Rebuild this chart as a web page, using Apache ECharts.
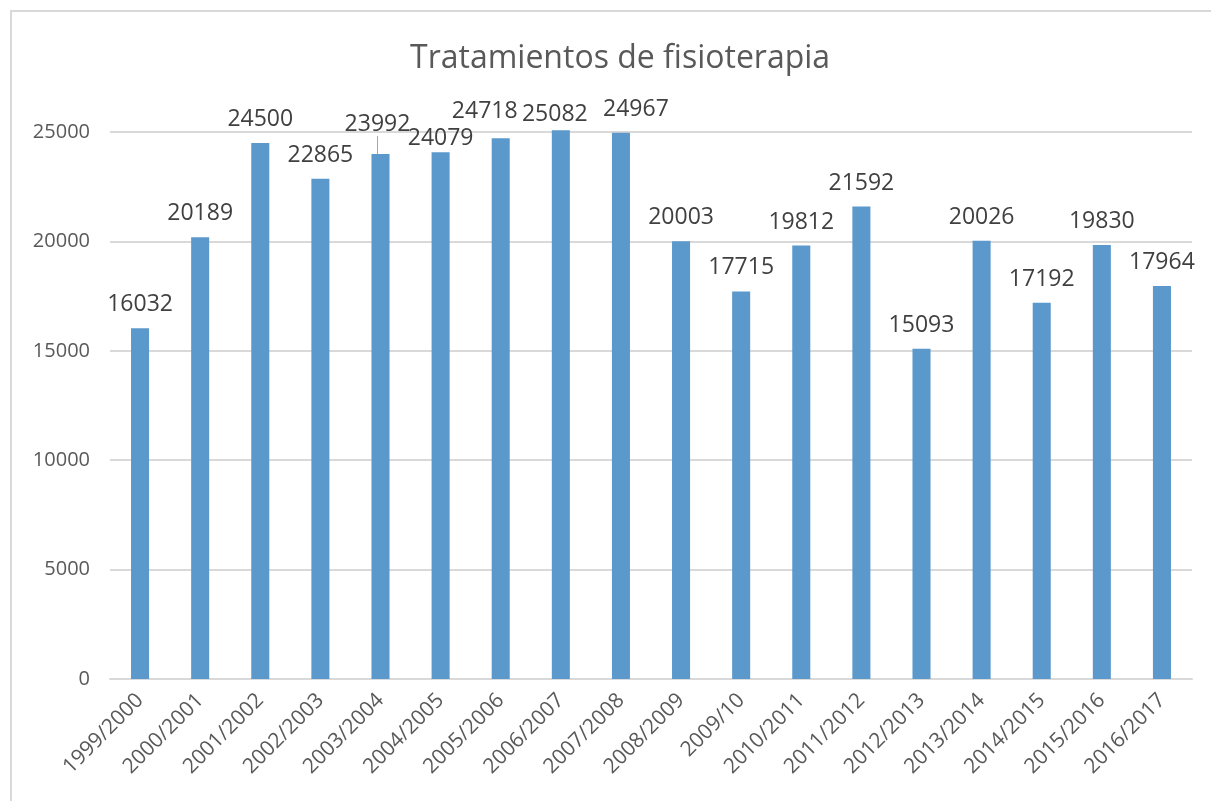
<!DOCTYPE html>
<html>
<head>
<meta charset="utf-8">
<title>Tratamientos de fisioterapia</title>
<script src="https://cdn.jsdelivr.net/npm/echarts@6/dist/echarts.min.js"></script>
<style>
  html, body { margin: 0; padding: 0; background: #fff; }
  #chart { width: 1211px; height: 801px; }
</style>
</head>
<body>
<div id="chart"></div>
<script>
var cursos = ['1999/2000', '2000/2001', '2001/2002', '2002/2003', '2003/2004', '2004/2005',
    '2005/2006', '2006/2007', '2007/2008', '2008/2009', '2009/10', '2010/2011',
    '2011/2012', '2012/2013', '2013/2014', '2014/2015', '2015/2016', '2016/2017'];
var tratamientos = [16032, 20189, 24500, 22865, 23992, 24079, 24718, 25082, 24967,
    20003, 17715, 19812, 21592, 15093, 20026, 17192, 19830, 17964];
var yTicks = [0, 5000, 10000, 15000, 20000, 25000];

// labels Excel nudged around to avoid overlapping
var labelNudge = {
    4: [-3, -6],
    5: [0, 10],
    6: [-16, -3],
    7: [-6, 8],
    8: [15, 0]
};

var chart = echarts.init(document.getElementById('chart'));

var barData = tratamientos.map(function (v, i) {
    var item = { value: v };
    if (i === 4) {
        item.labelLine = { show: true, lineStyle: { color: '#a6a6a6', width: 1 } };
    }
    return item;
});

var option = {
    animation: false,
    textStyle: { fontFamily: 'Open Sans' },
    title: {
        text: 'Tratamientos de fisioterapia',
        left: 405,
        top: 38,
        textStyle: {
            fontFamily: 'Open Sans',
            fontSize: 32,
            fontWeight: 'normal',
            color: '#595959'
        }
    },
    graphic: [{
        type: 'rect',
        shape: { x: 11, y: 11, width: 1400, height: 1000 },
        style: { fill: 'none', stroke: '#d9d9d9', lineWidth: 2 },
        silent: true
    }],
    grid: {
        left: 110,
        right: 19,
        top: 132,
        bottom: 122
    },
    xAxis: {
        type: 'category',
        data: cursos,
        axisLine: { lineStyle: { color: '#d9d9d9', width: 2 } },
        axisTick: { show: false },
        axisLabel: {
            rotate: 45,
            interval: 0,
            margin: 18,
            fontSize: 21,
            color: '#595959',
            fontFamily: 'Open Sans'
        }
    },
    yAxis: {
        type: 'value',
        min: yTicks[0],
        max: yTicks[yTicks.length - 1],
        interval: 5000,
        axisLine: { show: false },
        axisTick: { show: false },
        splitLine: { lineStyle: { color: '#d9d9d9', width: 2 } },
        axisLabel: {
            margin: 20,
            fontSize: 20,
            color: '#595959',
            fontFamily: 'Open Sans',
            formatter: function (v) { return String(v); }
        }
    },
    series: [{
        type: 'bar',
        data: barData,
        barWidth: '30%',
        clip: false,
        itemStyle: { color: '#5b98cb' },
        label: {
            show: true,
            position: 'top',
            distance: 12,
            fontSize: 23,
            color: '#404040',
            fontFamily: 'Open Sans'
        },
        labelLayout: function (params) {
            var n = labelNudge[params.dataIndex];
            if (!n) return {};
            return { dx: n[0], dy: n[1] };
        }
    }]
};

chart.setOption(option);
</script>
</body>
</html>
